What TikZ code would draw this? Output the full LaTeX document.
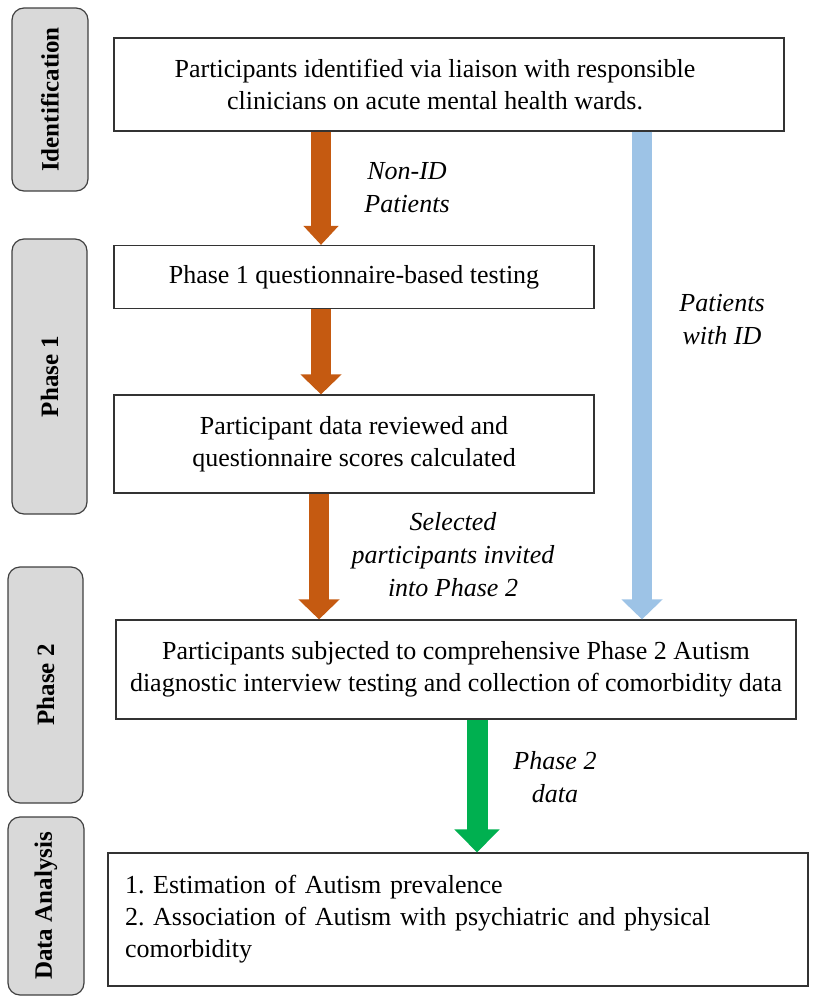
\documentclass[tikz,border=0pt]{standalone}
\usepackage{fontspec}
\setmainfont{Liberation Serif}
\usetikzlibrary{arrows.meta}
\definecolor{arrorange}{HTML}{C55A11}
\definecolor{arrblue}{HTML}{9DC3E6}
\definecolor{arrgreen}{HTML}{00B050}
\definecolor{tabgray}{HTML}{D9D9D9}
\frenchspacing

\begin{document}
\begin{tikzpicture}[x=1pt, y=-1pt,
		stage/.style={draw=black!75, line width=1.2pt, rounded corners=12pt, fill=tabgray, rotate=90, inner sep=0pt, font=\fontsize{25}{30}\selectfont\bfseries},
		box/.style={draw=black!80, line width=1.2pt, inner sep=0pt, align=center, font=\fontsize{26}{32}\selectfont},
		lbl/.style={align=center, font=\fontsize{26}{33}\selectfont\itshape},
		flow/.style={line width=20pt, -{Triangle[length=20pt, width=40pt]}}]
		\useasboundingbox (0,0) rectangle (813,996);
		\node[stage, minimum width=183pt, minimum height=76pt] (tabid) at (50,99.5) {Identification};
		\node[stage, minimum width=275pt, minimum height=75pt] (tabp1) at (49.5,376.5) {Phase 1};
		\node[stage, minimum width=236pt, minimum height=75pt] (tabp2) at (45.5,685) {Phase 2};
		\node[stage, minimum width=178pt, minimum height=76pt] (tabda) at (46,906) {Data Analysis};
		\node[box, minimum width=670pt, minimum height=93pt] (ident) at (449,84.5) {Participants identified via liaison with responsible\hspace*{28pt}\\clinicians on acute mental health wards.\hspace*{28pt}};
		\node[box, minimum width=480pt, minimum height=63pt] (ptest) at (354,277) {Phase 1 questionnaire-based testing};
		\node[box, minimum width=480pt, minimum height=98pt] (review) at (354,444) {Participant data reviewed and\\questionnaire scores calculated};
		\node[box, minimum width=680pt, minimum height=99pt] (interview) at (456,669.5) {Participants subjected to comprehensive Phase 2 Autism\\diagnostic interview testing and collection of comorbidity data};
		\node[box, minimum width=700pt, minimum height=133pt, inner xsep=17pt, text width=666pt, align=left] (analysis) at (458,919.5) {1. Estimation of Autism prevalence\\2. Association of Autism with psychiatric and physical\\comorbidity};
		\coordinate (orcol) at (321,0);
		\coordinate (orcoltwo) at (319,0);
		\coordinate (bluecol) at (642,0);
		\coordinate (greencol) at (477,0);
		\draw[flow, arrorange, -{Triangle[length=19pt, width=34pt]}] (ident.south -| orcol) -- (ptest.north -| orcol);
		\draw[flow, arrorange] (ptest.south -| orcol) -- (review.north -| orcol);
		\draw[flow, arrorange] (review.south -| orcoltwo) -- (interview.north -| orcoltwo);
		\draw[flow, arrblue] (ident.south -| bluecol) -- (interview.north -| bluecol);
		\draw[flow, arrgreen, line width=21pt, -{Triangle[length=23pt, width=44pt]}] (interview.south -| greencol) -- (analysis.north -| greencol);
		\node[lbl] (nonid) at (407,188) {Non-ID\\Patients};
		\node[lbl] (withid) at (722,320) {Patients\\with ID};
		\node[lbl] (invite) at (453,555) {Selected\\participants invited\\into Phase 2};
		\node[lbl] (pdata) at (555,777) {Phase 2\\data};
\end{tikzpicture}
\end{document}
